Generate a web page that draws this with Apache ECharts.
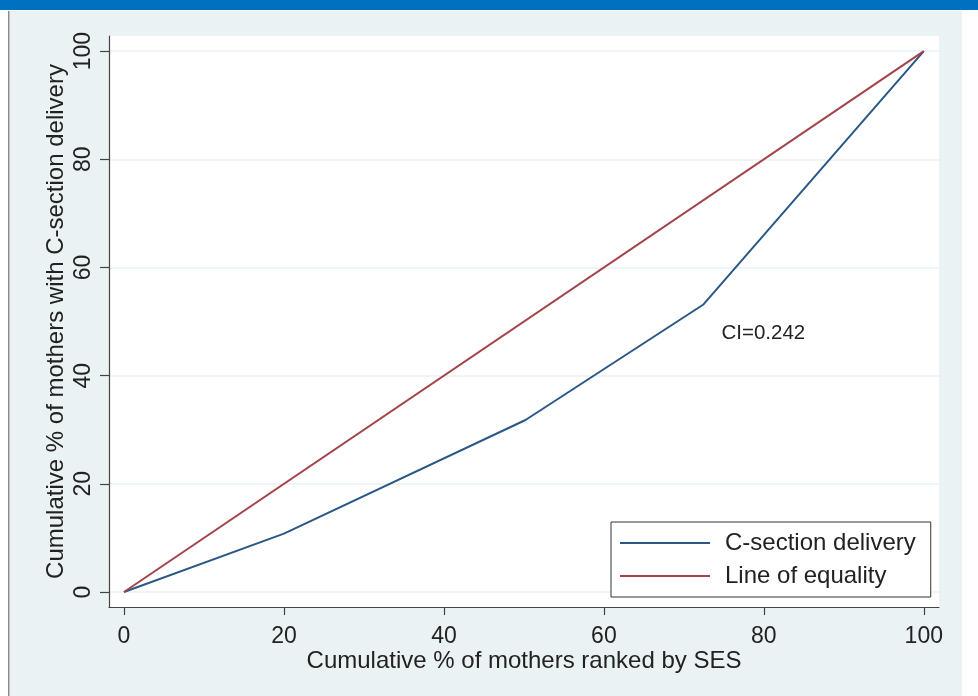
<!DOCTYPE html>
<html lang="en">
<head>
    <meta charset="UTF-8">
    <title>Concentration curve</title>
    <script src="https://cdn.jsdelivr.net/npm/echarts@6/dist/echarts.min.js"></script>
    <style>
        html, body { margin: 0; padding: 0; background: #ffffff; }
        #main { width: 978px; height: 696px; }
    </style>
</head>
<body>
    <div id="main"></div>
<script>
    // cumulative % of mothers ranked by SES
    var rankX = [0, 20, 50.2, 72.4, 100];
    // cumulative % with C-section delivery
    var csection = [0, 10.8, 31.8, 53.1, 100];
    // line of equality
    var equalX = [0, 100];
    var equalY = [0, 100];
    var tickValues = [0, 20, 40, 60, 80, 100];
    var ciText = 'CI=0.242';
    var ciPos = [74.7, 47.9];

    var font = "'Liberation Sans', Arial, sans-serif";

    function pairs(xs, ys) {
        var out = [];
        for (let i = 0; i < xs.length; i++) {
            out.push([xs[i], ys[i]]);
        }
        return out;
    }

    var chart = echarts.init(document.getElementById('main'));

    var option = {
        animation: false,
        backgroundColor: '#ffffff',
        textStyle: { fontFamily: font },
        graphic: [
            // outer frame like the journal figure box
            { type: 'rect', z: -10, shape: { x: 0, y: 0, width: 978, height: 10 }, style: { fill: '#0070c0' } },
            { type: 'rect', z: -10, shape: { x: 10, y: 11, width: 952, height: 690 }, style: { fill: '#eaf2f3' } },
            { type: 'rect', z: -10, shape: { x: 8, y: 11, width: 1.5, height: 690 }, style: { fill: '#8a8a8a' } }
        ],
        grid: {
            left: 109,
            right: 39,
            top: 36,
            bottom: 89,
            show: true,
            backgroundColor: '#ffffff',
            borderWidth: 0
        },
        legend: {
            left: 611,
            top: 522,
            orient: 'vertical',
            backgroundColor: '#ffffff',
            borderColor: '#333333',
            borderWidth: 1,
            padding: [9, 15, 9, 9],
            itemGap: 9,
            itemWidth: 90,
            itemHeight: 2,
            icon: 'rect',
            textStyle: { fontSize: 24, color: '#222222', fontFamily: font, padding: [0, 0, 0, 10] },
            data: ['C-section delivery', 'Line of equality']
        },
        xAxis: {
            type: 'value',
            min: -1.877,
            max: 101.9,
            name: 'Cumulative % of mothers ranked by SES',
            nameLocation: 'middle',
            nameGap: 42,
            nameMoveOverlap: false,
            nameTextStyle: { fontSize: 24, color: '#222222', fontFamily: font },
            axisLine: { show: true, onZero: false, lineStyle: { color: '#444444', width: 1.2 } },
            axisTick: { show: true, length: 8, customValues: tickValues, lineStyle: { color: '#444444', width: 1.2 } },
            axisLabel: { customValues: tickValues, fontSize: 23, color: '#222222', margin: 18, fontFamily: font },
            splitLine: { show: false }
        },
        yAxis: {
            type: 'value',
            min: -2.77,
            max: 102.79,
            name: 'Cumulative % of mothers with C-section delivery',
            nameLocation: 'middle',
            nameRotate: 90,
            nameGap: 41,
            nameMoveOverlap: false,
            nameTextStyle: { fontSize: 24, color: '#222222', fontFamily: font },
            axisLine: { show: true, onZero: false, lineStyle: { color: '#444444', width: 1.2 } },
            axisTick: { show: true, length: 9, customValues: tickValues, lineStyle: { color: '#444444', width: 1.2 } },
            axisLabel: { customValues: tickValues, rotate: 90, fontSize: 23, color: '#222222', margin: 14, fontFamily: font },
            splitLine: { show: true, customValues: tickValues, lineStyle: { color: '#eaf2f3', width: 1.5 } }
        },
        series: [
            {
                name: 'C-section delivery',
                type: 'line',
                data: pairs(rankX, csection),
                showSymbol: false,
                symbol: 'none',
                color: '#2a5886',
                lineStyle: { color: '#2a5886', width: 2 },
                markPoint: {
                    symbol: 'circle',
                    symbolSize: 0,
                    data: [{ coord: ciPos, value: ciText }],
                    label: {
                        show: true,
                        position: 'right',
                        distance: 0,
                        formatter: ciText,
                        fontSize: 20.5,
                        color: '#222222',
                        fontFamily: font
                    }
                }
            },
            {
                name: 'Line of equality',
                type: 'line',
                data: pairs(equalX, equalY),
                showSymbol: false,
                symbol: 'none',
                color: '#a3434a',
                lineStyle: { color: '#a3434a', width: 2 }
            }
        ]
    };

    chart.setOption(option);
</script>
</body>
</html>
